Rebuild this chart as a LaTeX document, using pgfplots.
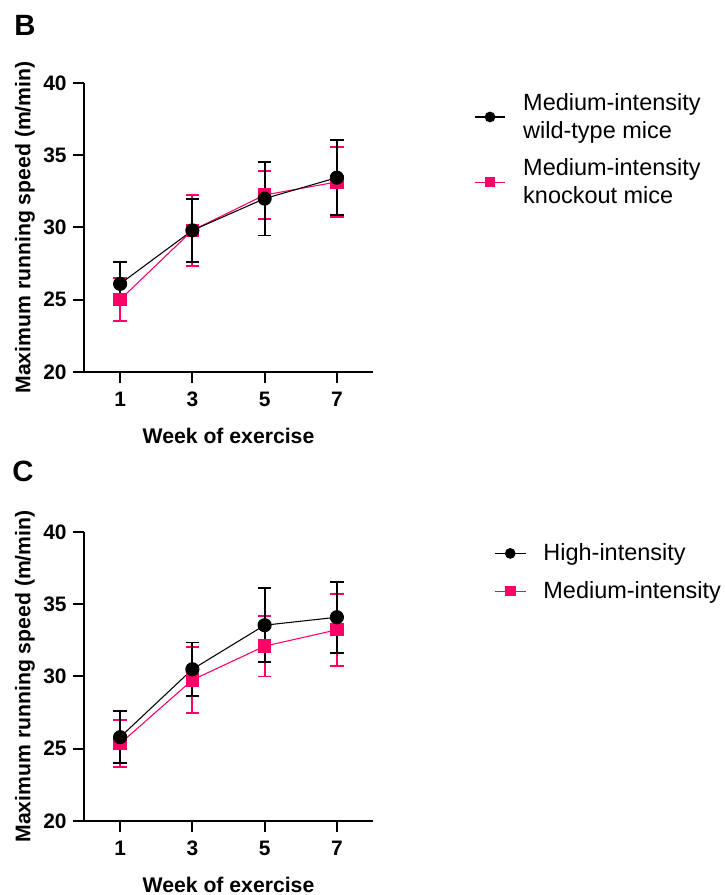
\documentclass[border=0pt]{standalone}
\usepackage{fontspec}
\setmainfont{Liberation Sans}
\usepackage{pgfplots}
\pgfplotsset{compat=1.18}
\usepackage{pgfplotstable}
\definecolor{kpink}{RGB}{255,0,102}

\pgfplotstableread{
x y e
1 26.1 1.5
3 29.8 2.2
5 32.0 2.55
7 33.45 2.6
}\Bwt
\pgfplotstableread{
x y e
1 25.0 1.5
3 29.8 2.45
5 32.25 1.65
7 33.15 2.45
}\Bko
\pgfplotstableread{
x y e
1 25.8 1.8
3 30.5 1.85
5 33.55 2.55
7 34.1 2.45
}\Chigh
\pgfplotstableread{
x y e
1 25.36 1.62
3 29.76 2.3
5 32.1 2.1
7 33.23 2.5
}\Cmed

\pgfplotsset{
  myax/.style={
    scale only axis, width=216.75pt, height=216.75pt,
    xmin=0, xmax=8, ymin=20, ymax=40,
    xtick={1,3,5,7}, ytick={20,25,30,35,40},
    axis x line=bottom, axis y line=left,
    axis line style={-, line width=1.5pt},
    tick style={line width=1.5pt, black},
    tick align=outside, major tick length=8.5pt,
    /pgf/number format/assume math mode=true,
    ticklabel style={font=\bfseries\fontsize{15.7}{16}\selectfont},
    yticklabel style={xshift=-1pt},
    xticklabel style={yshift=-3pt},
    label style={font=\bfseries\fontsize{15.9}{17}\selectfont},
    xlabel={Week of exercise},
    ylabel={Maximum running speed (m/min)},
    xlabel style={at={(axis description cs:0.5,-0.22)}, anchor=center},
    ylabel style={at={(axis description cs:-0.204,0.5)}, anchor=center},
    clip=false,
    legend style={draw=none, fill=none, inner sep=0pt, outer sep=0pt,
      row sep=10pt, column sep=11pt, anchor=north west,
      font=\fontsize{17.6}{20.6}\selectfont,
      cells={anchor=west, align=left}},
    legend image code/.code={
      \draw[mark repeat=2,mark phase=2,#1, mark size=3.6pt] plot coordinates {(0pt,0pt) (11.5pt,0pt) (23pt,0pt)};},
    reverse legend,
  },
  wtstyle/.style={black, line width=0.8pt, mark=*, mark size=4.9pt,
    mark options={solid, fill=black},
    error bars/.cd, y dir=both, y explicit,
    error bar style={line width=1.4pt, black},
    error mark options={rotate=90, mark size=5pt, line width=1.4pt, black}},
  kostyle/.style={kpink, line width=0.8pt, mark=square*, mark size=4.6pt,
    mark options={solid, fill=kpink},
    error bars/.cd, y dir=both, y explicit,
    error bar style={line width=1.4pt, kpink},
    error mark options={rotate=90, mark size=5pt, line width=1.4pt, kpink}},
}

\begin{document}
\begin{tikzpicture}[x=0.75pt,y=0.75pt]
\useasboundingbox (0,0) rectangle (724,895);
\begin{axis}[myax, at={(63pt,392.25pt)}, anchor=south west,
  legend style={at={(axis description cs:1.35,0.972)}}]
\addplot[kostyle] table[x=x, y=y, y error=e] {\Bko};
\addlegendentry{Medium-intensity\\knockout mice}
\addplot[wtstyle] table[x=x, y=y, y error=e] {\Bwt};
\addlegendentry{Medium-intensity\\wild-type mice}
\end{axis}
\node[anchor=north west, inner sep=0pt, font=\bfseries\fontsize{22}{22}\selectfont] at (14,880) {B};

\begin{axis}[myax, at={(63pt,55.5pt)}, anchor=south west,
  legend style={at={(axis description cs:1.42,0.968)}}]
\addplot[kostyle] table[x=x, y=y, y error=e] {\Cmed};
\addlegendentry{Medium-intensity}
\addplot[wtstyle] table[x=x, y=y, y error=e] {\Chigh};
\addlegendentry{High-intensity}
\end{axis}
\node[anchor=north west, inner sep=0pt, font=\bfseries\fontsize{22}{22}\selectfont] at (12,434) {C};
\end{tikzpicture}
\end{document}
